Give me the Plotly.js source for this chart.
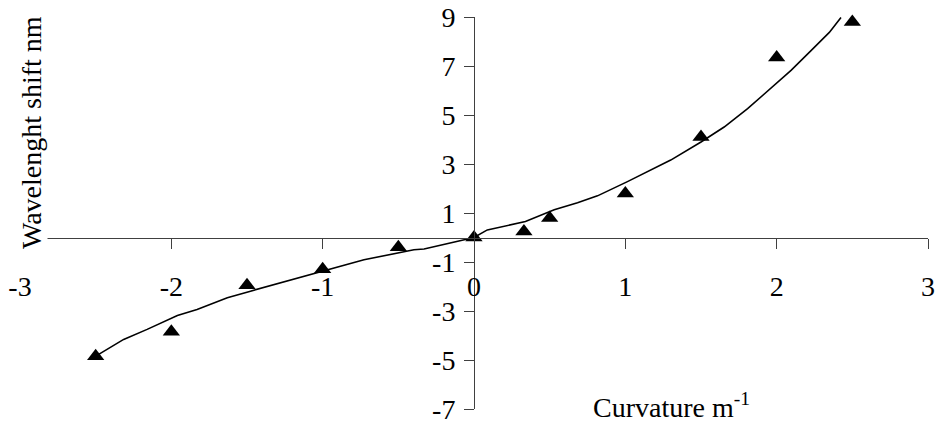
<!DOCTYPE html>
<html>
<head>
<meta charset="utf-8">
<script src="https://cdn.plot.ly/plotly-3.0.1.min.js"></script>
<style>html,body{margin:0;padding:0;background:#fff;}#chart{width:936px;height:425px;}
#chart text{font-family:"Liberation Serif","Times New Roman","DejaVu Serif",serif !important;}</style>
</head>
<body>
<div id="chart"></div>
<script>
// Measured points (triangles)
const pointX = [-2.5, -2, -1.5, -1, -0.5, 0, 0.33, 0.5, 1, 1.5, 2, 2.5];
const pointY = [-4.85, -3.85, -1.95, -1.3, -0.4, 0, 0.25, 0.8, 1.8, 4.1, 7.35, 8.8];

// Fitted curve
const curveX = [-2.48, -2.315, -2.16, -1.96, -1.83, -1.63, -1.477, -1.28, -1.0, -0.727, -0.397, -0.33, 0, 0.088, 0.34, 0.42, 0.53, 0.684, 0.816, 1.014, 1.30, 1.5, 1.653, 1.808, 1.984, 2.095, 2.227, 2.348, 2.425];
const curveY = [-4.77, -4.16, -3.75, -3.18, -2.94, -2.46, -2.19, -1.85, -1.38, -0.91, -0.5, -0.47, 0, 0.31, 0.65, 0.85, 1.13, 1.42, 1.7, 2.28, 3.16, 3.9, 4.51, 5.26, 6.21, 6.82, 7.63, 8.37, 8.98];

// Tick values
const xTicks = [-3, -2, -1, 0, 1, 2, 3];
const yTicks = [-7, -5, -3, -1, 1, 3, 5, 7, 9];

const xTitle = 'Curvature m<sup>-1</sup>';
const yTitle = 'Wavelenght shift nm';

const FONT = '"Liberation Serif", "Times New Roman", "DejaVu Serif", serif';
const AXC = '#404040';

const traces = [
  {
    x: curveX, y: curveY, type: 'scatter', mode: 'lines',
    line: {color: '#000', width: 1.6},
    hoverinfo: 'skip', showlegend: false, cliponaxis: false
  },
  {
    x: pointX, y: pointY, type: 'scatter', mode: 'markers',
    marker: {symbol: 'triangle-up', size: 15, color: '#000'},
    showlegend: false, cliponaxis: false
  }
];

const layout = {
  width: 936, height: 425,
  margin: {l: 20, r: 8, t: 17, b: 16, pad: 0},
  paper_bgcolor: '#fff', plot_bgcolor: '#fff',
  font: {family: FONT, size: 28, color: '#000'},
  showlegend: false,
  xaxis: {
    range: [-3, 3], anchor: 'free', position: 7/16,
    tickmode: 'array', tickvals: xTicks, ticktext: xTicks.map(String),
    showline: true, linecolor: AXC, linewidth: 1,
    ticks: 'outside', ticklen: 10, tickcolor: AXC, tickwidth: 1,
    ticklabelstandoff: 14,
    showgrid: false, zeroline: false,
    tickfont: {family: FONT, size: 28, color: '#000'}
  },
  yaxis: {
    range: [-7, 9], anchor: 'free', position: 0.5,
    tickmode: 'array', tickvals: yTicks, ticktext: yTicks.map(String),
    showline: true, linecolor: AXC, linewidth: 1,
    ticks: 'outside', ticklen: 10, tickcolor: AXC, tickwidth: 1,
    ticklabelstandoff: 3,
    showgrid: false, zeroline: false,
    tickfont: {family: FONT, size: 28, color: '#000'}
  },
  annotations: [
    {
      text: yTitle, textangle: -90,
      xref: 'paper', yref: 'paper',
      x: (31 - 20) / 908, y: (409 - 133) / 392,
      xanchor: 'center', yanchor: 'middle',
      showarrow: false, bgcolor: '#fff', borderpad: 0,
      font: {family: FONT, size: 28, color: '#000'}
    },
    {
      text: xTitle,
      xref: 'paper', yref: 'paper',
      x: (671 - 20) / 908, y: (409 - 424) / 392,
      xanchor: 'center', yanchor: 'bottom',
      showarrow: false, borderpad: 0,
      font: {family: FONT, size: 28, color: '#000'}
    }
  ]
};

Plotly.newPlot('chart', traces, layout, {displayModeBar: false, staticPlot: true});
</script>
</body>
</html>
